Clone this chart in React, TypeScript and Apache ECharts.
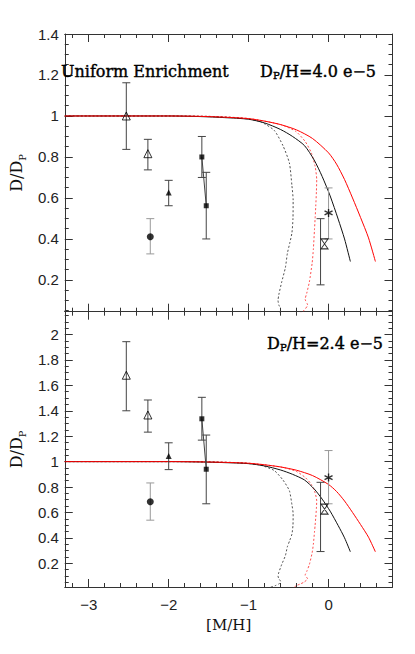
import React, { useEffect, useRef } from "react";
import * as echarts from "echarts";

// ---- axis ranges & ticks ----
const X_RANGE = [-3.3, 0.8];
const TOP_Y_RANGE = [0.045, 1.4];
const BOT_Y_RANGE = [0.013, 2.18];
const xMajorTicks = [-3, -2, -1, 0];
const xMinorTicks = [-3.2, -2.8, -2.6, -2.4, -2.2, -1.8, -1.6, -1.4, -1.2, -0.8, -0.6, -0.4, -0.2, 0.2, 0.4, 0.6];
const topYMajorTicks = [0.2, 0.4, 0.6, 0.8, 1.0, 1.2, 1.4];
const botYMajorTicks = [0.2, 0.4, 0.6, 0.8, 1.0, 1.2, 1.4, 1.6, 1.8, 2.0];
const minorY = (maxI: number) => {
  const out: number[] = [];
  for (let i = 1; i <= maxI; i++) if (i % 4 !== 0) out.push(Math.round(i * 5) / 100);
  return out;
};
const topYMinorTicks = minorY(27);
const botYMinorTicks = minorY(43);

// ---- model curves (D/D_P vs [M/H]) ----
const blackSolid = [[-3.3, 1], [-2.0, 1.0], [-1.6, 0.997], [-1.3, 0.992], [-1.0, 0.984], [-0.8, 0.966], [-0.6, 0.934], [-0.45, 0.9], [-0.3, 0.855], [-0.18, 0.785], [-0.08, 0.705], [0.02, 0.61], [0.12, 0.497], [0.2, 0.4], [0.273, 0.29]];
const redSolid = [[-3.3, 1], [-2.0, 1.0], [-1.6, 0.998], [-1.3, 0.994], [-1.0, 0.987], [-0.8, 0.975], [-0.6, 0.958], [-0.4, 0.932], [-0.2, 0.89], [0.0, 0.82], [0.1, 0.765], [0.2, 0.69], [0.3, 0.6], [0.4, 0.505], [0.5, 0.405], [0.586, 0.29]];
const blackDotted = [[-3.3, 1], [-2, 1], [-1.5, 0.998], [-1.2, 0.993], [-1.0, 0.985], [-0.85, 0.972], [-0.68, 0.93], [-0.57, 0.855], [-0.49, 0.771], [-0.458, 0.66], [-0.443, 0.59], [-0.445, 0.5], [-0.458, 0.43], [-0.485, 0.38], [-0.515, 0.33], [-0.54, 0.26], [-0.586, 0.19], [-0.622, 0.128], [-0.632, 0.1], [-0.622, 0.078], [-0.6, 0.058], [-0.615, 0.04], [-0.665, 0.024], [-0.743, 0.007], [-0.78, 0]];
const redDotted = [[-3.3, 1], [-2, 1], [-1.5, 0.998], [-1, 0.988], [-0.6, 0.958], [-0.41, 0.925], [-0.293, 0.876], [-0.215, 0.82], [-0.168, 0.754], [-0.148, 0.69], [-0.152, 0.63], [-0.16, 0.56], [-0.168, 0.5], [-0.176, 0.445], [-0.19, 0.35], [-0.205, 0.283], [-0.24, 0.19], [-0.273, 0.135], [-0.293, 0.106], [-0.262, 0.078], [-0.305, 0.052], [-0.36, 0.035], [-0.41, 0.022], [-0.44, 0]];

// ---- observations, top panel (D_P/H = 4.0e-5) ----
const topOpenTri = [[-2.53, 1.0], [-2.26, 0.816]];
const topFilledTri = [[-2.0, 0.627]];
const topCircle = [[-2.23, 0.411]];
const topSquare = [[-1.585, 0.8], [-1.53, 0.562]];
const topStar = [[0.0, 0.527]];
const topCross = [[-0.05, 0.376]];
const topErrDark = [[-2.53, 0.837, 1.162], [-2.26, 0.737, 0.886], [-2.0, 0.562, 0.686], [-1.585, 0.7, 0.9], [-1.53, 0.4, 0.725], [-0.1, 0.176, 0.499]];
const topErrLight = [[-2.23, 0.327, 0.499], [0.0, 0.4, 0.649]];

// ---- observations, bottom panel (D_P/H = 2.4e-5) ----
const botOpenTri = [[-2.53, 1.68], [-2.26, 1.367]];
const botFilledTri = [[-2.0, 1.045]];
const botCircle = [[-2.23, 0.684]];
const botSquare = [[-1.585, 1.337], [-1.53, 0.94]];
const botStar = [[0.0, 0.874]];
const botCross = [[-0.05, 0.626]];
const botErrDark = [[-2.53, 1.4, 1.944], [-2.26, 1.232, 1.485], [-2.0, 0.937, 1.148], [-1.585, 1.169, 1.506], [-1.53, 0.668, 1.209], [-0.1, 0.292, 0.837]];
const botErrLight = [[-2.23, 0.539, 0.832], [0.0, 0.668, 1.087]];

const AXIS_COLOR = "#333";
const TICK_FONT = "Liberation Sans";
const SERIF = "DejaVu Serif";

const STAR = "path://M5,0L5,10M0.7,2.5L9.3,7.5M0.7,7.5L9.3,2.5";
const HOURGLASS = "path://M0,0L8,0L0,10L8,10Z";

function xAxesFor(grid: number, labels: boolean) {
  const base: any = { type: "value", gridIndex: grid, min: X_RANGE[0], max: X_RANGE[1], splitLine: { show: false } };
  const line = { show: true, onZero: false, lineStyle: { color: AXIS_COLOR, width: 1 } };
  const noLine = { show: false, onZero: false };
  const major = { show: true, inside: true, length: 8, customValues: xMajorTicks, lineStyle: { color: AXIS_COLOR } };
  const minor = { show: true, inside: true, length: 4, customValues: xMinorTicks, lineStyle: { color: AXIS_COLOR } };
  return [
    {
      ...base, position: "bottom", axisLine: line, axisTick: major,
      axisLabel: labels
        ? { show: true, customValues: xMajorTicks, margin: 10, color: "#222", fontFamily: TICK_FONT, fontSize: 15,
            formatter: (v: number) => (v < 0 ? "\u2212" + Math.abs(v) : String(v)) }
        : { show: false },
      name: labels ? "[M/H]" : "", nameLocation: "middle", nameGap: 30,
      nameTextStyle: { fontFamily: SERIF, fontSize: 15, color: "#111" },
    },
    { ...base, position: "bottom", axisLine: noLine, axisTick: minor, axisLabel: { show: false } },
    { ...base, position: "top", axisLine: line, axisTick: major, axisLabel: { show: false } },
    { ...base, position: "top", axisLine: noLine, axisTick: minor, axisLabel: { show: false } },
  ];
}

function yAxesFor(grid: number, range: number[], majors: number[], minors: number[]) {
  const base: any = { type: "value", gridIndex: grid, min: range[0], max: range[1], splitLine: { show: false } };
  const line = { show: true, onZero: false, lineStyle: { color: AXIS_COLOR, width: 1 } };
  const noLine = { show: false, onZero: false };
  const major = { show: true, inside: true, length: 8, customValues: majors, lineStyle: { color: AXIS_COLOR } };
  const minor = { show: true, inside: true, length: 4, customValues: minors, lineStyle: { color: AXIS_COLOR } };
  return [
    {
      ...base, position: "left", axisLine: line, axisTick: major,
      axisLabel: { show: true, customValues: majors, margin: 6, color: "#222", fontFamily: TICK_FONT, fontSize: 15,
        formatter: (v: number) => String(Math.round(v * 100) / 100) },
      name: "{d|D/D}{s|P}", nameLocation: "middle", nameGap: 27,
      nameTextStyle: {
        rich: {
          d: { fontFamily: SERIF, fontSize: 16, color: "#111", lineHeight: 18, verticalAlign: "top" },
          s: { fontFamily: SERIF, fontSize: 10, color: "#111", lineHeight: 10, verticalAlign: "top", padding: [9, 0, 0, 0] },
        },
      },
    },
    { ...base, position: "left", axisLine: noLine, axisTick: minor, axisLabel: { show: false } },
    { ...base, position: "right", axisLine: line, axisTick: major, axisLabel: { show: false } },
    { ...base, position: "right", axisLine: noLine, axisTick: minor, axisLabel: { show: false } },
  ];
}

function errSeries(data: number[][], axis: number, color: string) {
  return {
    type: "custom", xAxisIndex: axis, yAxisIndex: axis, data, z: 3, clip: true,
    renderItem: (_p: any, api: any) => {
      const x = api.value(0);
      const lo = api.coord([x, api.value(1)]);
      const hi = api.coord([x, api.value(2)]);
      const w = 4;
      const style = { stroke: color, lineWidth: 1, fill: "none" };
      return {
        type: "group",
        children: [
          { type: "line", shape: { x1: lo[0], y1: lo[1], x2: hi[0], y2: hi[1] }, style },
          { type: "line", shape: { x1: lo[0] - w, y1: lo[1], x2: lo[0] + w, y2: lo[1] }, style },
          { type: "line", shape: { x1: hi[0] - w, y1: hi[1], x2: hi[0] + w, y2: hi[1] }, style },
        ],
      };
    },
  };
}

function curveSeries(data: number[][], axis: number, color: string, dotted: boolean, z: number) {
  return {
    type: "line", xAxisIndex: axis, yAxisIndex: axis, data, showSymbol: false, symbol: "none", z,
    smooth: dotted ? 0.2 : 0.25, clip: true,
    lineStyle: { color, width: 1, type: dotted ? [2, 2] : "solid", opacity: dotted ? 0.85 : 1 },
  };
}

function scatter(data: number[][], axis: number, symbol: string, size: any, filled: boolean, bw = 1) {
  return {
    type: "scatter", xAxisIndex: axis, yAxisIndex: axis, data, symbol, symbolSize: size, z: 5,
    itemStyle: filled
      ? { color: "#000" }
      : { color: "rgba(0,0,0,0)", borderColor: "#000", borderWidth: bw },
  };
}

function panelSeries(p: number, d: any) {
  const a = p * 4;
  return [
    curveSeries(blackDotted, a, "#333", true, 1),
    curveSeries(redDotted, a, "#ff3030", true, 1),
    curveSeries(blackSolid, a, "#111", false, 2),
    curveSeries(redSolid, a, "#ff0000", false, 2),
    errSeries(d.errDark, a, "#444"),
    errSeries(d.errLight, a, "#999"),
    { type: "line", xAxisIndex: a, yAxisIndex: a, data: d.square, showSymbol: false, symbol: "none", z: 4,
      lineStyle: { color: "#444", width: 1 } },
    scatter(d.openTri, a, "triangle", 8, false),
    scatter(d.filledTri, a, "triangle", 6, true),
    scatter(d.circle, a, "circle", 7, true),
    scatter(d.square, a, "rect", 5, true),
    scatter(d.star, a, STAR, 8, false, 1.4),
    scatter(d.cross, a, HOURGLASS, [7, 10], false),
  ];
}

export default function App() {
  const ref = useRef<HTMLDivElement>(null);
  useEffect(() => {
    if (!ref.current) return;
    const chart = echarts.init(ref.current, undefined, { renderer: "svg" });
    const richSub = {
      d: { fontFamily: SERIF, fontSize: 16, fill: "#000", lineHeight: 16, verticalAlign: "top" },
      s: { fontFamily: SERIF, fontSize: 10, fill: "#000", lineHeight: 10, verticalAlign: "top", padding: [7, 0, 0, 0] },
    };
    const thick = { stroke: "#000", lineWidth: 0.4 };
    const option: any = {
      animation: false,
      backgroundColor: "#fff",
      grid: [
        { left: 43, top: 34, width: 349.5, height: 277.7 },
        { left: 43, top: 311.7, width: 349.5, height: 275.3 },
      ],
      xAxis: [...xAxesFor(0, false), ...xAxesFor(1, true)],
      yAxis: [
        ...yAxesFor(0, TOP_Y_RANGE, topYMajorTicks, topYMinorTicks),
        ...yAxesFor(1, BOT_Y_RANGE, botYMajorTicks, botYMinorTicks),
      ],
      graphic: [
        { type: "text", x: 61, y: 71, z: 10,
          style: { text: "Uniform Enrichment", font: `16px "${SERIF}"`, fill: "#000", ...thick, textAlign: "left", textVerticalAlign: "middle" } },
        { type: "text", x: 376, y: 71, z: 10,
          style: { text: "{d|D}{s|P}{d|/H=4.0 e\u22125}", rich: richSub, ...thick, textAlign: "right", textVerticalAlign: "middle" } },
        { type: "text", x: 383, y: 343, z: 10,
          style: { text: "{d|D}{s|P}{d|/H=2.4 e\u22125}", rich: richSub, ...thick, textAlign: "right", textVerticalAlign: "middle" } },
      ],
      series: [
        ...panelSeries(0, { openTri: topOpenTri, filledTri: topFilledTri, circle: topCircle, square: topSquare, star: topStar, cross: topCross, errDark: topErrDark, errLight: topErrLight }),
        ...panelSeries(1, { openTri: botOpenTri, filledTri: botFilledTri, circle: botCircle, square: botSquare, star: botStar, cross: botCross, errDark: botErrDark, errLight: botErrLight }),
      ],
    };
    chart.setOption(option);
    return () => chart.dispose();
  }, []);
  return <div ref={ref} style={{ position: "fixed", left: 0, top: 0, width: 415, height: 654, background: "#fff" }} />;
}
